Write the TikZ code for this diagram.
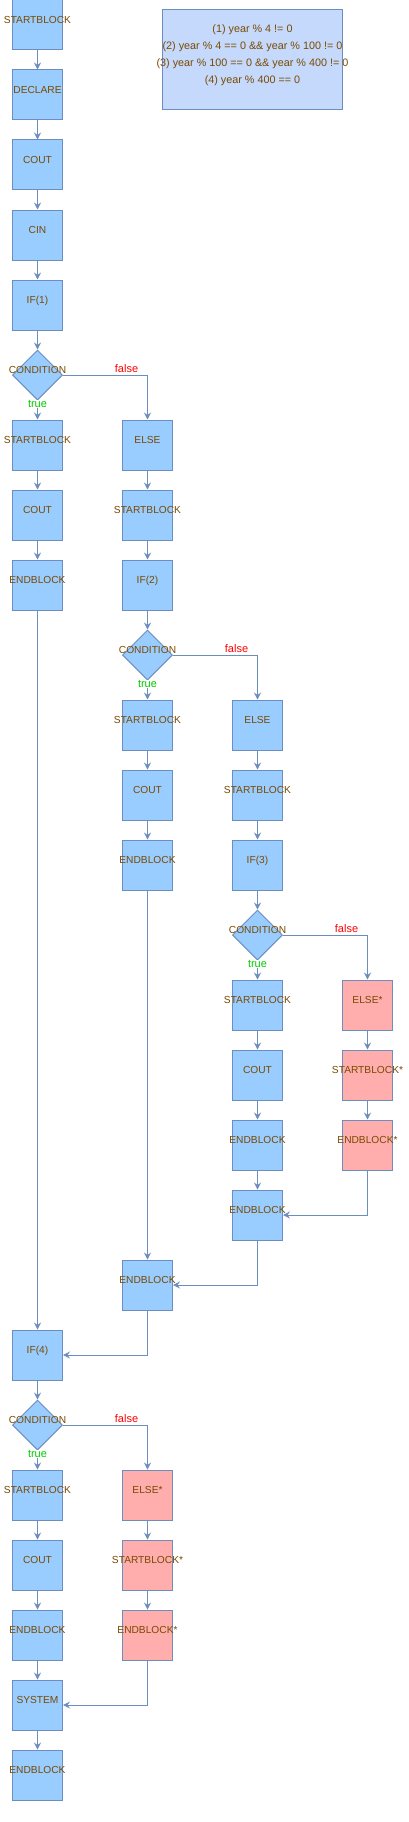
\documentclass[tikz,border=0pt]{standalone}
\usepackage{fontspec}
\setmainfont{Liberation Sans}
\usetikzlibrary{shapes.geometric,arrows.meta}
\definecolor{boxc}{HTML}{99CCFF}
\definecolor{edgec}{HTML}{6C8EBF}
\definecolor{pinkc}{HTML}{FFADAD}
\definecolor{notec}{HTML}{C5D9FC}
\definecolor{txtc}{HTML}{7A4A00}
\definecolor{truec}{HTML}{00CC00}
\definecolor{falsec}{HTML}{FF0000}
\newcommand\bxfont{\fontsize{10.2}{12}\selectfont}
\newcommand\lbfont{\fontsize{11}{13}\selectfont}
\newcommand\ntfont{\fontsize{10.8}{17}\selectfont}
\newcommand\mkz[1]{\makebox[0pt]{#1}}
\tikzset{
 box/.style={draw=edgec, fill=boxc, line width=1pt, minimum width=50pt, minimum height=50pt, inner sep=0pt, text=txtc, font=\bxfont, text height=0pt, text depth=2.7pt},
 pbox/.style={box, fill=pinkc},
 dia/.style={diamond, draw=edgec, fill=boxc, line width=1pt, minimum width=50pt, minimum height=50pt, inner sep=0pt},
 ctext/.style={text=txtc, font=\bxfont, inner sep=0pt, text height=0pt, text depth=2.7pt},
 arr/.style={draw=edgec, line width=1pt, -{Stealth[length=7pt,width=7pt,inset=2.5pt]}},
 tl/.style={text=truec, font=\lbfont, fill=white, inner sep=0.5pt},
 fl/.style={text=falsec, font=\lbfont, inner sep=0pt},
 notebox/.style={draw=edgec, fill=notec, line width=1pt, minimum width=180pt, minimum height=100pt, inner sep=0pt},
 notetext/.style={text=txtc, font=\ntfont, align=center, inner sep=0pt},
}
\begin{document}
\begin{tikzpicture}[x=1pt,y=-1pt]
\useasboundingbox[fill=white] (0,0) rectangle (408,1822);
% note
\node[notebox] (note) at (252.5,60) {};
\node[notetext] (notet) at (252.5,55.6) {(1) year \% 4 != 0\\(2) year \% 4 == 0 \&\& year \% 100 != 0\\(3) year \% 100 == 0 \&\& year \% 400 != 0\\(4) year \% 400 == 0};
% column 1 top
\node[box] (n0) at (37.5,25) {\mkz{STARTBLOCK}};
\node[box] (n1) at (37.5,95) {\mkz{DECLARE}};
\node[box] (n2) at (37.5,165) {\mkz{COUT}};
\node[box] (n3) at (37.5,235) {\mkz{CIN}};
\node[box] (n4) at (37.5,305) {\mkz{IF(1)}};
\node[dia] (d1) at (37.5,375) {};
\node[ctext] (d1t) at (37.5,375) {\mkz{CONDITION}};
\node[box] (n6) at (37.5,445) {\mkz{STARTBLOCK}};
\node[box] (n7) at (37.5,515) {\mkz{COUT}};
\node[box] (n8) at (37.5,585) {\mkz{ENDBLOCK}};
% column 2
\node[box] (e6) at (147.5,445) {\mkz{ELSE}};
\node[box] (e7) at (147.5,515) {\mkz{STARTBLOCK}};
\node[box] (e8) at (147.5,585) {\mkz{IF(2)}};
\node[dia] (d2) at (147.5,655) {};
\node[ctext] (d2t) at (147.5,655) {\mkz{CONDITION}};
\node[box] (f10) at (147.5,725) {\mkz{STARTBLOCK}};
\node[box] (f11) at (147.5,795) {\mkz{COUT}};
\node[box] (f12) at (147.5,865) {\mkz{ENDBLOCK}};
% column 3
\node[box] (g10) at (257.5,725) {\mkz{ELSE}};
\node[box] (g11) at (257.5,795) {\mkz{STARTBLOCK}};
\node[box] (g12) at (257.5,865) {\mkz{IF(3)}};
\node[dia] (d3) at (257.5,935) {};
\node[ctext] (d3t) at (257.5,935) {\mkz{CONDITION}};
\node[box] (h14) at (257.5,1005) {\mkz{STARTBLOCK}};
\node[box] (h15) at (257.5,1075) {\mkz{COUT}};
\node[box] (h16) at (257.5,1145) {\mkz{ENDBLOCK}};
\node[box] (h17) at (257.5,1215) {\mkz{ENDBLOCK}};
% column 4
\node[pbox] (k14) at (367.5,1005) {\mkz{ELSE*}};
\node[pbox] (k15) at (367.5,1075) {\mkz{STARTBLOCK*}};
\node[pbox] (k16) at (367.5,1145) {\mkz{ENDBLOCK*}};
% merge
\node[box] (m18) at (147.5,1285) {\mkz{ENDBLOCK}};
% bottom
\node[box] (p19) at (37.5,1355) {\mkz{IF(4)}};
\node[dia] (d4) at (37.5,1425) {};
\node[ctext] (d4t) at (37.5,1425) {\mkz{CONDITION}};
\node[box] (p21) at (37.5,1495) {\mkz{STARTBLOCK}};
\node[box] (p22) at (37.5,1565) {\mkz{COUT}};
\node[box] (p23) at (37.5,1635) {\mkz{ENDBLOCK}};
\node[pbox] (q21) at (147.5,1495) {\mkz{ELSE*}};
\node[pbox] (q22) at (147.5,1565) {\mkz{STARTBLOCK*}};
\node[pbox] (q23) at (147.5,1635) {\mkz{ENDBLOCK*}};
\node[box] (p24) at (37.5,1705) {\mkz{SYSTEM}};
\node[box] (p25) at (37.5,1775) {\mkz{ENDBLOCK}};
% edges
\draw[arr] (n0) -- (n1);
\draw[arr] (n1) -- (n2);
\draw[arr] (n2) -- (n3);
\draw[arr] (n3) -- (n4);
\draw[arr] (n4) -- (d1);
\draw[arr] (d1) -- node[tl,pos=0.2] (t1) {true} (n6);
\draw[arr] (d1) -| node[fl,pos=0.376,yshift=6pt] (fa1) {false} (e6);
\draw[arr] (n6) -- (n7);
\draw[arr] (n7) -- (n8);
\draw[arr] (n8) -- (p19);
\draw[arr] (e6) -- (e7);
\draw[arr] (e7) -- (e8);
\draw[arr] (e8) -- (d2);
\draw[arr] (d2) -- node[tl,pos=0.2] (t2) {true} (f10);
\draw[arr] (d2) -| node[fl,pos=0.376,yshift=6pt] (fa2) {false} (g10);
\draw[arr] (f10) -- (f11);
\draw[arr] (f11) -- (f12);
\draw[arr] (f12) -- (m18);
\draw[arr] (g10) -- (g11);
\draw[arr] (g11) -- (g12);
\draw[arr] (g12) -- (d3);
\draw[arr] (d3) -- node[tl,pos=0.2] (t3) {true} (h14);
\draw[arr] (d3) -| node[fl,pos=0.376,yshift=6pt] (fa3) {false} (k14);
\draw[arr] (h14) -- (h15);
\draw[arr] (h15) -- (h16);
\draw[arr] (h16) -- (h17);
\draw[arr] (k14) -- (k15);
\draw[arr] (k15) -- (k16);
\draw[arr] (k16) |- (h17);
\draw[arr] (h17) |- (m18);
\draw[arr] (m18) |- (p19);
\draw[arr] (p19) -- (d4);
\draw[arr] (d4) -- node[tl,pos=0.2] (t4) {true} (p21);
\draw[arr] (d4) -| node[fl,pos=0.376,yshift=6pt] (fa4) {false} (q21);
\draw[arr] (p21) -- (p22);
\draw[arr] (p22) -- (p23);
\draw[arr] (p23) -- (p24);
\draw[arr] (q21) -- (q22);
\draw[arr] (q22) -- (q23);
\draw[arr] (q23) |- (p24);
\draw[arr] (p24) -- (p25);
\end{tikzpicture}
\end{document}
